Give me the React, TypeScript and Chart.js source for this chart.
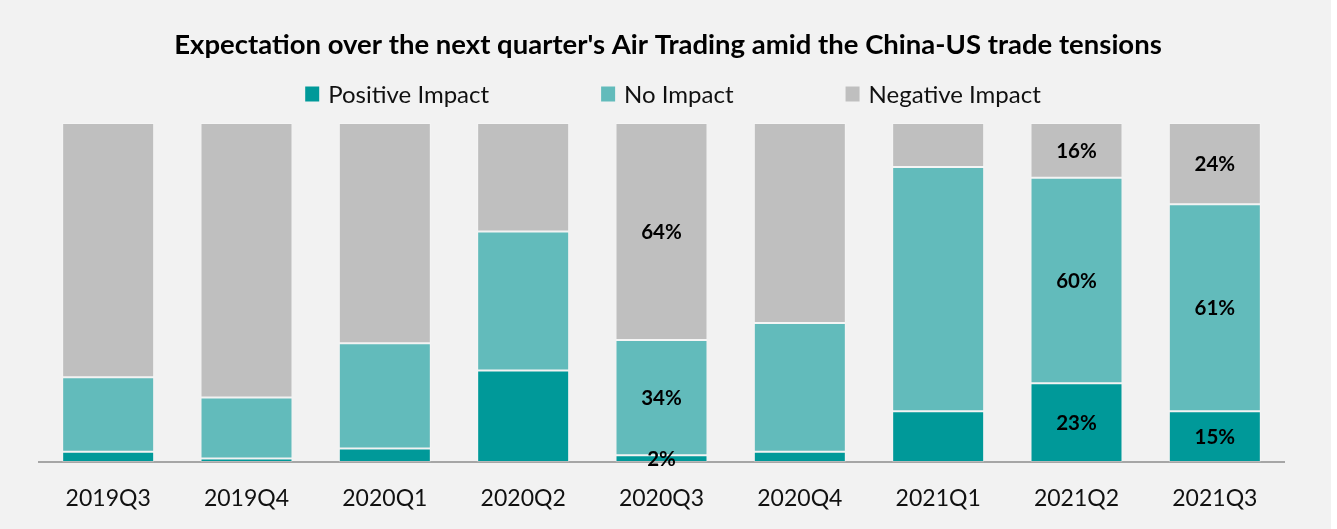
import React, { useEffect, useRef } from "react";
import { Chart, registerables } from "chart.js";

Chart.register(...registerables);

const categories = ["2019Q3", "2019Q4", "2020Q1", "2020Q2", "2020Q3", "2020Q4", "2021Q1", "2021Q2", "2021Q3"];
const positiveImpact = [3, 1, 4, 27, 2, 3, 15, 23, 15];
const noImpact = [22, 18, 31, 41, 34, 38, 72, 60, 61];
const negativeImpact = [75, 81, 65, 32, 64, 59, 13, 16, 24];
const labelledCategories = ["2020Q3", "2021Q2", "2021Q3"];
const seriesNames = ["Positive Impact", "No Impact", "Negative Impact"];
const seriesColors = ["#009999", "#62BBBB", "#BFBFBF"];
const titleText = "Expectation over the next quarter's Air Trading amid the China-US trade tensions";

const FONT = "Lato, 'Open Sans', sans-serif";

const rawSeries = [positiveImpact, noImpact, negativeImpact];
const totals = categories.map((_, i) => positiveImpact[i] + noImpact[i] + negativeImpact[i]);

const backgroundPlugin = {
  id: "bgPlugin",
  beforeDraw(chart: any) {
    const { ctx, width, height } = chart;
    ctx.save();
    ctx.fillStyle = "#FFFFFF";
    ctx.fillRect(0, 0, width, height);
    ctx.fillStyle = "#F2F2F2";
    ctx.fillRect(0, 0, 1331, height);
    ctx.restore();
  },
};

const headerPlugin = {
  id: "customHeader",
  afterDraw(chart: any) {
    const { ctx } = chart;
    ctx.save();
    // title
    ctx.font = `bold 27.5px ${FONT}`;
    ctx.fillStyle = "#000000";
    ctx.textAlign = "center";
    ctx.textBaseline = "middle";
    ctx.fillText(titleText, 668, 45);

    // legend
    ctx.font = `24px ${FONT}`;
    const boxW = 14;
    const boxH = 15;
    const textGap = 9;
    const itemGap = 112;
    const widths = seriesNames.map((n) => boxW + textGap + ctx.measureText(n).width);
    const total = widths.reduce((a, b) => a + b, 0) + itemGap * (seriesNames.length - 1);
    let x = 673 - total / 2;
    const cy = 94;
    seriesNames.forEach((name, i) => {
      ctx.fillStyle = seriesColors[i];
      ctx.fillRect(x, cy - boxH / 2, boxW, boxH);
      ctx.fillStyle = "#111111";
      ctx.textAlign = "left";
      ctx.textBaseline = "middle";
      ctx.fillText(name, x + boxW + textGap, cy + 1);
      x += widths[i] + itemGap;
    });
    ctx.restore();
  },
};

const valueLabelPlugin = {
  id: "valueLabels",
  afterDatasetsDraw(chart: any) {
    const { ctx } = chart;
    ctx.save();
    ctx.font = `bold 20.5px ${FONT}`;
    ctx.fillStyle = "#000000";
    ctx.textAlign = "center";
    ctx.textBaseline = "middle";
    chart.data.datasets.forEach((ds: any, di: number) => {
      const meta = chart.getDatasetMeta(di);
      meta.data.forEach((el: any, idx: number) => {
        if (!labelledCategories.includes(categories[idx])) return;
        const p = el.getCenterPoint();
        ctx.fillText(`${rawSeries[di][idx]}%`, p.x, p.y + 1);
      });
    });
    ctx.restore();
  },
};

export default function App() {
  const canvasRef = useRef<HTMLCanvasElement | null>(null);

  useEffect(() => {
    document.body.style.margin = "0";
    const canvas = canvasRef.current;
    if (!canvas) return;
    const chart = new Chart(canvas, {
      type: "bar",
      data: {
        labels: categories,
        datasets: rawSeries.map((arr, si) => ({
          label: seriesNames[si],
          data: arr.map((v, i) => (v / totals[i]) * 100),
          backgroundColor: seriesColors[si],
          borderColor: "rgba(255,255,255,0.22)",
          borderWidth: 1,
          borderSkipped: false,
          categoryPercentage: 1,
          barPercentage: 0.665,
        })),
      },
      options: {
        responsive: true,
        maintainAspectRatio: false,
        animation: false,
        layout: { padding: { left: 39, right: 53, top: 123, bottom: 17 } },
        plugins: {
          legend: { display: false },
          tooltip: { enabled: false },
          title: { display: false },
        },
        scales: {
          x: {
            stacked: true,
            grid: { display: false, drawTicks: false },
            border: { display: true, color: "#A6A6A6", width: 2 },
            ticks: { color: "#111111", font: { family: FONT, size: 23 }, padding: 23 },
            afterFit: (scale: any) => {
              scale.height = 50;
            },
          },
          y: {
            stacked: true,
            display: false,
            min: 0,
            max: 100,
          },
        },
      },
      plugins: [backgroundPlugin, headerPlugin, valueLabelPlugin],
    });
    return () => chart.destroy();
  }, []);

  return (
    <div style={{ width: 1337, height: 529, position: "relative" }}>
      <canvas ref={canvasRef} />
    </div>
  );
}
